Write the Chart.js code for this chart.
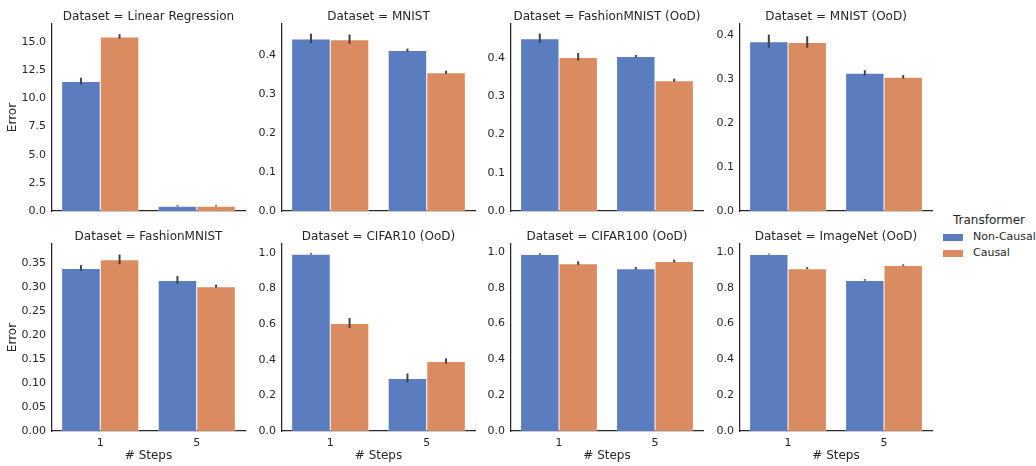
<!DOCTYPE html>
<html>
<head>
<meta charset="utf-8">
<script src="https://cdn.jsdelivr.net/npm/chart.js@4"></script>
<style>
  body { margin: 0; background: #fff; font-family: "DejaVu Sans", sans-serif; color: #262626; }
  #wrap { position: relative; width: 1036px; height: 466px; overflow: hidden; }
  canvas { position: absolute; }
  .leg { position: absolute; white-space: nowrap; }
  .sw { position: absolute; width: 20px; height: 7px; }
</style>
</head>
<body>
<div id="wrap"></div>
<script>
const panelNames = ['Linear Regression', 'MNIST', 'FashionMNIST (OoD)', 'MNIST (OoD)',
                    'FashionMNIST', 'CIFAR10 (OoD)', 'CIFAR100 (OoD)', 'ImageNet (OoD)'];
const stepLabels = ['1', '5'];
const seriesNames = ['Non-Causal', 'Causal'];

// mean error per panel, for 1 and 5 steps
const nonCausal = [[11.53, 0.46], [0.443, 0.413], [0.452, 0.405], [0.386, 0.314],
                   [0.340, 0.315], [0.995, 0.298], [0.989, 0.910], [0.989, 0.844]];
const causal    = [[15.50, 0.46], [0.441, 0.356], [0.403, 0.342], [0.384, 0.305],
                   [0.358, 0.302], [0.607, 0.393], [0.938, 0.950], [0.910, 0.927]];
// half length of error bars
const nonCausalErr = [[0.30, 0.05], [0.012, 0.004], [0.012, 0.003], [0.015, 0.006],
                      [0.006, 0.008], [0.004, 0.025], [0.004, 0.007], [0.003, 0.004]];
const causalErr    = [[0.20, 0.05], [0.012, 0.004], [0.010, 0.004], [0.013, 0.004],
                      [0.010, 0.003], [0.028, 0.015], [0.010, 0.008], [0.005, 0.004]];

const yMax = [16.6, 0.48, 0.489, 0.425, 0.39, 1.05, 1.045, 1.045];
const yStep = [2.5, 0.1, 0.1, 0.1, 0.05, 0.2, 0.2, 0.2];
const yDecimals = [1, 1, 1, 1, 2, 1, 1, 1];

const colors = ['#597DBF', '#DA8B5F'];
const ink = '#262626';

Chart.defaults.font.family = '"DejaVu Sans", sans-serif';
Chart.defaults.font.size = 11;
Chart.defaults.color = ink;

const errorBars = {
  id: 'errorBars',
  afterDatasetsDraw(chart) {
    const ctx = chart.ctx, y = chart.scales.y;
    ctx.save();
    ctx.strokeStyle = '#424242';
    ctx.lineWidth = 2;
    chart.data.datasets.forEach((ds, i) => {
      chart.getDatasetMeta(i).data.forEach((bar, j) => {
        ctx.beginPath();
        ctx.moveTo(bar.x, y.getPixelForValue(ds.data[j] - ds.err[j]));
        ctx.lineTo(bar.x, y.getPixelForValue(ds.data[j] + ds.err[j]));
        ctx.stroke();
      });
    });
    ctx.restore();
  }
};

const panelTitle = {
  id: 'panelTitle',
  afterDraw(chart, args, opts) {
    const {ctx, chartArea} = chart;
    ctx.save();
    ctx.font = '12px "DejaVu Sans"';
    ctx.fillStyle = ink;
    ctx.textAlign = 'center';
    ctx.textBaseline = 'alphabetic';
    ctx.fillText(opts.text, (chartArea.left + chartArea.right) / 2, chartArea.top - 4);
    ctx.restore();
  }
};

const plotLeft = [52, 282, 511, 740];
const plotWidth = [193, 193, 192, 192];
const axisW = 52;
const wrap = document.getElementById('wrap');

panelNames.forEach((name, p) => {
  const row = Math.floor(p / 4), col = p % 4;
  const cv = document.createElement('canvas');
  const w = axisW + plotWidth[col] + 2;
  const h = row === 0 ? 225 : 241;
  cv.width = w; cv.height = h;
  cv.style.left = (plotLeft[col] - axisW) + 'px';
  cv.style.top = (row === 0 ? 0 : 225) + 'px';
  wrap.appendChild(cv);

  new Chart(cv, {
    type: 'bar',
    data: {
      labels: stepLabels,
      datasets: [
        { label: seriesNames[0], data: nonCausal[p], err: nonCausalErr[p], backgroundColor: colors[0] },
        { label: seriesNames[1], data: causal[p], err: causalErr[p], backgroundColor: colors[1] }
      ]
    },
    options: {
      responsive: false,
      animation: false,
      devicePixelRatio: 1,
      datasets: {
        bar: {
          categoryPercentage: 0.8,
          barPercentage: 1.0,
          borderColor: '#fff',
          borderWidth: { top: 1, left: 0.5, right: 0.5, bottom: 0 },
          borderSkipped: false
        }
      },
      layout: { padding: { top: row === 0 ? 24 : 19, bottom: row === 0 ? 14 : 0, left: 0, right: 2 } },
      plugins: {
        legend: { display: false },
        tooltip: { enabled: false },
        panelTitle: { text: 'Dataset = ' + name }
      },
      scales: {
        x: {
          offset: true,
          grid: { display: false, drawTicks: false },
          border: { color: ink, width: 1.25 },
          ticks: { display: row === 1, padding: 6 },
          title: { display: row === 1, text: '# Steps', font: { size: 12 }, padding: { top: 0, bottom: 3 } },
          afterFit: s => { s.height = row === 0 ? 0 : 35; }
        },
        y: {
          min: 0,
          max: yMax[p],
          grid: { display: false, drawTicks: false },
          border: { color: ink, width: 1.25 },
          ticks: {
            stepSize: yStep[p],
            includeBounds: false,
            padding: 6,
            callback: v => v.toFixed(yDecimals[p])
          },
          title: { display: col === 0, text: 'Error', font: { size: 12 }, padding: { top: 6, bottom: 0 } },
          afterFit: s => { s.width = axisW; }
        }
      }
    },
    plugins: [errorBars, panelTitle]
  });
});

// legend
const legTitle = document.createElement('div');
legTitle.className = 'leg';
legTitle.style.cssText = 'left:953px;top:212px;font-size:12px;line-height:16px;';
legTitle.textContent = 'Transformer';
wrap.appendChild(legTitle);
seriesNames.forEach((s, i) => {
  const sw = document.createElement('div');
  sw.className = 'sw';
  sw.style.left = '943px';
  sw.style.top = (234 + i * 16) + 'px';
  sw.style.background = colors[i];
  wrap.appendChild(sw);
  const t = document.createElement('div');
  t.className = 'leg';
  t.style.cssText = 'left:973px;top:' + (230 + i * 16) + 'px;font-size:11px;line-height:14px;';
  t.textContent = s;
  wrap.appendChild(t);
});
</script>
</body>
</html>
